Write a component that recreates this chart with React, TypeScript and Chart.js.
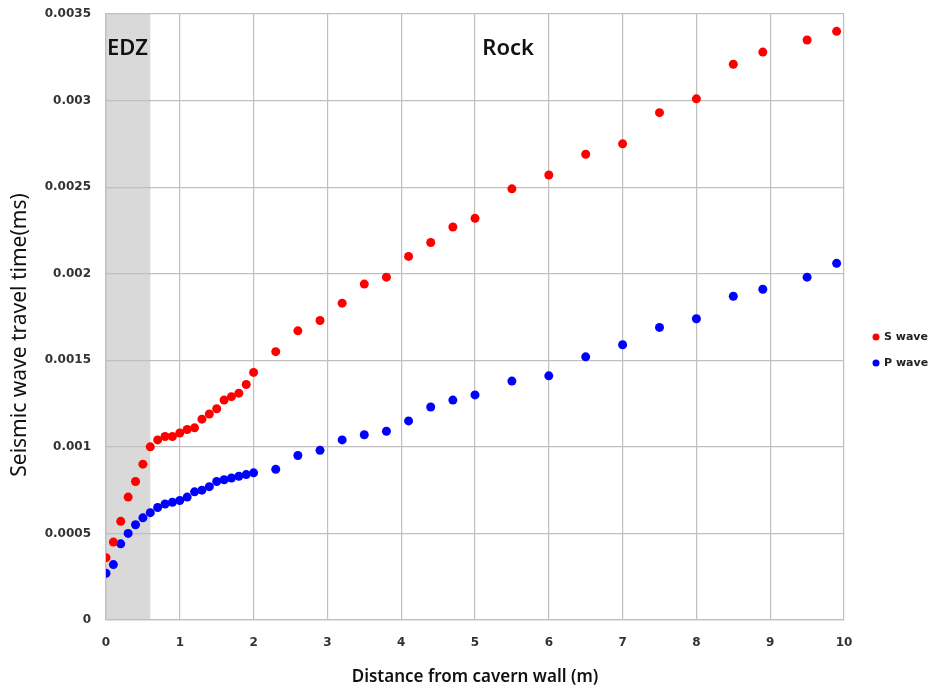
import React, { useEffect, useRef } from "react";
import { Chart, registerables } from "chart.js";

Chart.register(...registerables);

const distances = [
  0, 0.1, 0.2, 0.3, 0.4, 0.5, 0.6, 0.7, 0.8, 0.9, 1.0, 1.1, 1.2, 1.3, 1.4, 1.5, 1.6, 1.7, 1.8, 1.9, 2.0,
  2.3, 2.6, 2.9, 3.2, 3.5, 3.8, 4.1, 4.4, 4.7, 5.0, 5.5, 6.0, 6.5, 7.0, 7.5, 8.0, 8.5, 8.9, 9.5, 9.9,
];

const sWave = [
  0.00036, 0.00045, 0.00057, 0.00071, 0.0008, 0.0009, 0.001, 0.00104, 0.00106, 0.00106, 0.00108,
  0.0011, 0.00111, 0.00116, 0.00119, 0.00122, 0.00127, 0.00129, 0.00131, 0.00136, 0.00143,
  0.00155, 0.00167, 0.00173, 0.00183, 0.00194, 0.00198, 0.0021, 0.00218, 0.00227, 0.00232,
  0.00249, 0.00257, 0.00269, 0.00275, 0.00293, 0.00301, 0.00321, 0.00328, 0.00335, 0.0034,
];

const pWave = [
  0.00027, 0.00032, 0.00044, 0.0005, 0.00055, 0.00059, 0.00062, 0.00065, 0.00067, 0.00068, 0.00069,
  0.00071, 0.00074, 0.00075, 0.00077, 0.0008, 0.00081, 0.00082, 0.00083, 0.00084, 0.00085,
  0.00087, 0.00095, 0.00098, 0.00104, 0.00107, 0.00109, 0.00115, 0.00123, 0.00127, 0.0013,
  0.00138, 0.00141, 0.00152, 0.00159, 0.00169, 0.00174, 0.00187, 0.00191, 0.00198, 0.00206,
];

const seriesLabels = ["S wave", "P wave"];
const yTickLabels = ["0", "0.0005", "0.001", "0.0015", "0.002", "0.0025", "0.003", "0.0035"];
const xTickLabels = ["0", "1", "2", "3", "4", "5", "6", "7", "8", "9", "10"];
const xTitle = "Distance from cavern wall (m)";
const yTitle = "Seismic wave travel time(ms)";

const edzRange = [0, 0.6];
const zoneLabels = [
  { text: "EDZ", x: 0, y: 0.0033, align: "left" as CanvasTextAlign },
  { text: "Rock", x: 5.45, y: 0.0033, align: "center" as CanvasTextAlign },
];

const FONT = "'Noto Sans', 'Open Sans', sans-serif";
const TICK_FONT = "'DejaVu Sans', 'Noto Sans', sans-serif";

export default function App() {
  const canvasRef = useRef<HTMLCanvasElement | null>(null);

  useEffect(() => {
    const canvas = canvasRef.current;
    if (!canvas) return;

    const zonePlugin = {
      id: "zones",
      beforeDraw(chart: any) {
        const { ctx, chartArea, scales } = chart;
        const x0 = scales.x.getPixelForValue(edzRange[0]);
        const x1 = scales.x.getPixelForValue(edzRange[1]);
        ctx.save();
        ctx.fillStyle = "#d9d9d9";
        ctx.fillRect(x0, chartArea.top, x1 - x0, chartArea.bottom - chartArea.top);
        ctx.restore();
      },
      afterDatasetsDraw(chart: any) {
        const { ctx, scales } = chart;
        ctx.save();
        ctx.fillStyle = "#111";
        ctx.font = `600 22px ${FONT}`;
        ctx.textBaseline = "middle";
        zoneLabels.forEach((z) => {
          ctx.textAlign = z.align;
          const px = scales.x.getPixelForValue(z.x) + (z.align === "left" ? 1 : 0);
          ctx.fillText(z.text, px, scales.y.getPixelForValue(z.y));
        });
        ctx.restore();
      },
      afterDraw(chart: any) {
        const { ctx, chartArea } = chart;
        ctx.save();
        chart.data.datasets.forEach((ds: any, i: number) => {
          const cy = 337 + i * 26;
          ctx.beginPath();
          ctx.fillStyle = ds.backgroundColor;
          ctx.arc(876, cy, 3.5, 0, Math.PI * 2);
          ctx.fill();
          ctx.fillStyle = "#222";
          ctx.font = `bold 11px ${TICK_FONT}`;
          ctx.textAlign = "left";
          ctx.textBaseline = "middle";
          ctx.fillText(ds.label, 884, cy);
        });
        // y axis title
        ctx.translate(20, (chartArea.top + chartArea.bottom) / 2 + 18);
        ctx.rotate(-Math.PI / 2);
        ctx.fillStyle = "#111";
        ctx.font = `normal 21px ${FONT}`;
        ctx.textAlign = "center";
        ctx.textBaseline = "middle";
        ctx.fillText(yTitle, 0, 0);
        ctx.restore();
      },
    };

    const chart = new Chart(canvas, {
      type: "scatter",
      data: {
        datasets: [
          {
            label: seriesLabels[0],
            data: distances.map((x, i) => ({ x, y: sWave[i] })),
            backgroundColor: "#ff0000",
            borderColor: "#ff0000",
            borderWidth: 0,
            pointRadius: 4.5,
          },
          {
            label: seriesLabels[1],
            data: distances.map((x, i) => ({ x, y: pWave[i] })),
            backgroundColor: "#0000ff",
            borderColor: "#0000ff",
            borderWidth: 0,
            pointRadius: 4.5,
          },
        ],
      },
      options: {
        responsive: false,
        animation: false,
        layout: { padding: { left: 0, top: 14, right: 93, bottom: 0 } },
        plugins: { legend: { display: false }, tooltip: { enabled: false } },
        scales: {
          x: {
            type: "linear",
            min: 0,
            max: 10,
            afterFit(scale: any) {
              scale.height = 72;
              scale.paddingLeft = 0;
              scale.paddingRight = 0;
            },
            ticks: {
              stepSize: 1,
              padding: 16,
              color: "#333",
              font: { family: TICK_FONT, size: 12, weight: "bold" },
              callback: (v: any, i: number) => xTickLabels[i] ?? String(v),
            },
            grid: { color: "#bfbfbf", lineWidth: 1.2, drawTicks: false },
            border: { color: "#bfbfbf", width: 1.2 },
            title: {
              display: true,
              text: xTitle,
              color: "#111",
              font: { family: FONT, size: 17, weight: "600" },
              padding: { top: 0, bottom: 5 },
            },
          },
          y: {
            type: "linear",
            min: 0,
            max: 0.0035,
            afterFit(scale: any) {
              scale.width = 106;
              scale.paddingTop = 0;
              scale.paddingBottom = 0;
            },
            ticks: {
              stepSize: 0.0005,
              padding: 15,
              color: "#333",
              font: { family: TICK_FONT, size: 12, weight: "bold" },
              callback: (v: any, i: number) => yTickLabels[i] ?? String(v),
            },
            grid: { color: "#bfbfbf", lineWidth: 1.2, drawTicks: false },
            border: { color: "#bfbfbf", width: 1.2 },
          },
        },
      },
      plugins: [zonePlugin],
    });

    return () => chart.destroy();
  }, []);

  return (
    <div style={{ position: "fixed", left: 0, top: 0, width: 937, height: 692, background: "#fff" }}>
      <canvas ref={canvasRef} width={937} height={692} style={{ display: "block" }} />
    </div>
  );
}
